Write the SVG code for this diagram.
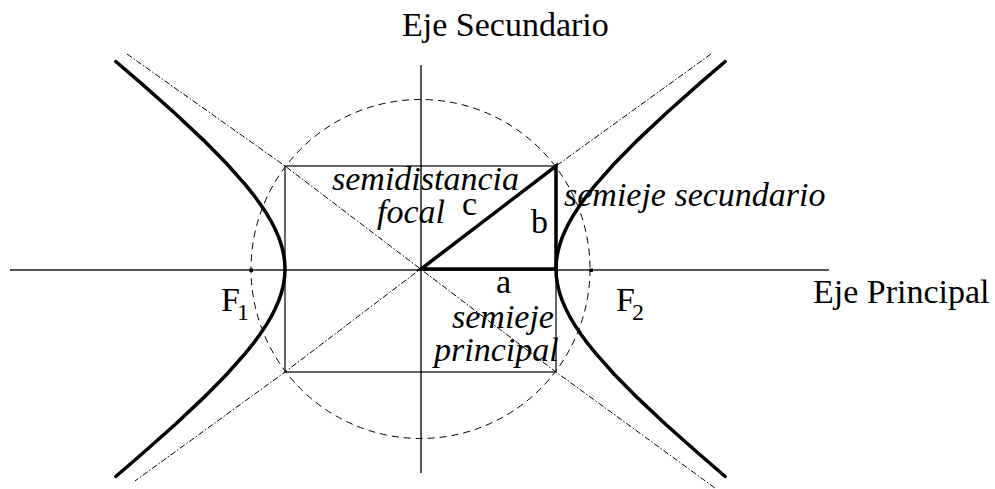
<svg xmlns="http://www.w3.org/2000/svg" width="995" height="489" viewBox="0 0 995 489">
<style>
.t{font-family:"Liberation Serif","Times New Roman",serif;font-size:34px;fill:#000}
.i{font-style:italic}
.sub{font-size:24px}
.axis{stroke:#555;stroke-width:2;fill:none}
.asym{stroke:#000;stroke-width:1;stroke-dasharray:6 2 1.5 2;fill:none}
.circ{stroke:#000;stroke-width:1;stroke-dasharray:7 5;fill:none}
.hyp{stroke:#000;stroke-width:3.5;fill:none;stroke-linejoin:round;stroke-linecap:round}
.thin{stroke:#000;stroke-width:1.2;fill:none}
.thick{stroke:#000;stroke-width:3.5;fill:none;stroke-linejoin:miter}
</style>
<defs>
<path id="branch" class="hyp" d="M304.71,-207.47 L278.9,-185.31 L245.35,-155.48 L217.31,-129.15 L194.19,-105.73 L175.43,-84.7 L167.56,-74.93 L160.63,-65.58 L154.61,-56.59 L149.46,-47.93 L145.14,-39.54 L141.64,-31.37 L138.94,-23.37 L137.03,-15.51 L135.88,-7.73 L135.5,0 L135.88,7.73 L137.03,15.51 L138.94,23.37 L141.64,31.37 L145.14,39.54 L149.46,47.93 L154.61,56.59 L160.63,65.58 L167.56,74.93 L175.43,84.7 L194.19,105.73 L217.31,129.15 L245.35,155.48 L278.9,185.31 L304.71,207.47"/>
</defs>
<g id="axes">
<line class="axis" x1="10" y1="270" x2="829" y2="270"/>
<line class="axis" x1="421" y1="65" x2="421" y2="473"/>
</g>
<g id="asymptotes">
<polyline class="asym" points="127,54 285,166 556,372 715,488"/>
<polyline class="asym" points="711,54 556,166 285,372 135,481"/>
</g>
<g id="circle">
<circle class="circ" cx="420.5" cy="269" r="169.5"/>
</g>
<g id="rectangle">
<rect class="thin" x="285" y="166" width="271" height="206"/>
</g>
<g id="hyperbola" transform="translate(420.5,269)">
<use href="#branch"/>
<use href="#branch" transform="scale(-1,1)"/>
</g>
<g id="triangle">
<polygon class="thick" points="421,269 556,269 556,166"/>
</g>
<g id="foci">
<rect x="249.5" y="268.5" width="3.5" height="3.5" fill="#000"/>
<rect x="589.5" y="268.5" width="3.5" height="3.5" fill="#000"/>
</g>
<g id="labels">
<text class="t" x="402" y="36">Eje Secundario</text>
<text class="t" x="813" y="303">Eje Principal</text>
<text class="t i" x="332" y="190">semidistancia</text>
<text class="t i" x="377" y="223">focal</text>
<text class="t" x="462" y="215">c</text>
<text class="t" x="531" y="233">b</text>
<text class="t" x="496" y="293">a</text>
<text class="t i" x="452" y="328">semieje</text>
<text class="t i" x="434" y="361">principal</text>
<text class="t i" x="564" y="206">semieje secundario</text>
<text class="t" x="221" y="311">F<tspan class="sub" x="237" y="320">1</tspan></text>
<text class="t" x="616" y="311">F<tspan class="sub" x="632" y="320">2</tspan></text>
</g>
</svg>
